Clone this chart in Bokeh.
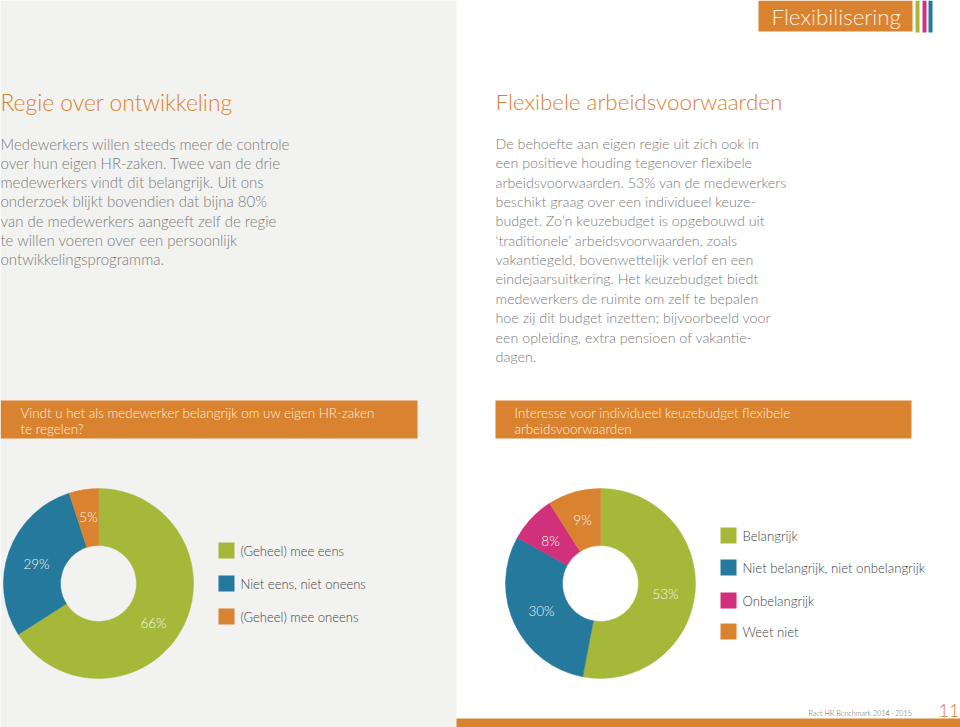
from bokeh.plotting import figure
from bokeh.models import Range1d
from bokeh.embed import file_html
from bokeh.resources import INLINE
from bokeh.core.properties import value
import numpy as np

# ---------------- data ----------------
q1_labels = ["(Geheel) mee eens", "Niet eens, niet oneens", "(Geheel) mee oneens"]
q1_values = [66, 29, 5]
q2_labels = ["Belangrijk", "Niet belangrijk, niet onbelangrijk", "Onbelangrijk", "Weet niet"]
q2_values = [53, 30, 8, 9]

ORANGE = "#d9822f"
GREEN = "#a5b83a"
BLUE = "#24799d"
MAGENTA = "#d1307b"
GRAY = "#7b7b7b"
LIGHTBG = "#f2f2f0"
FONT = "Lato Light"

q1_colors = [GREEN, BLUE, ORANGE]
q2_colors = [GREEN, BLUE, MAGENTA, ORANGE]

left_title = "Regie over ontwikkeling"
left_body = [
    "Medewerkers willen steeds meer de controle",
    "over hun eigen HR-zaken. Twee van de drie",
    "medewerkers vindt dit belangrijk. Uit ons",
    "onderzoek blijkt bovendien dat bijna 80%",
    "van de medewerkers aangeeft zelf de regie",
    "te willen voeren over een persoonlijk",
    "ontwikkelingsprogramma.",
]
right_title = "Flexibele arbeidsvoorwaarden"
right_body = [
    "De behoefte aan eigen regie uit zich ook in",
    "een positieve houding tegenover flexibele",
    "arbeidsvoorwaarden. 53% van de medewerkers",
    "beschikt graag over een individueel keuze-",
    "budget. Zo\u2019n keuzebudget is opgebouwd uit",
    "\u2018traditionele\u2019 arbeidsvoorwaarden, zoals",
    "vakantiegeld, bovenwettelijk verlof en een",
    "eindejaarsuitkering. Het keuzebudget biedt",
    "medewerkers de ruimte om zelf te bepalen",
    "hoe zij dit budget inzetten; bijvoorbeeld voor",
    "een opleiding, extra pensioen of vakantie-",
    "dagen.",
]
q1_title = ["Vindt u het als medewerker belangrijk om uw eigen HR-zaken", "te regelen?"]
q2_title = ["Interesse voor individueel keuzebudget flexibele", "arbeidsvoorwaarden"]

W, H = 960, 727


def Y(y):
    return H - y


p = figure(width=W, height=H, x_range=Range1d(0, W), y_range=Range1d(0, H),
           output_backend="svg", toolbar_location=None, min_border=0)
p.axis.visible = False
p.grid.visible = False
p.outline_line_color = None
p.background_fill_color = "white"
p.border_fill_color = "white"

# left panel background
p.quad(left=[0], right=[456], bottom=[Y(727)], top=[Y(0)], fill_color=LIGHTBG, line_color=None)

# header
p.quad(left=[758], right=[912], bottom=[Y(31)], top=[Y(0)], fill_color=ORANGE, line_color=None)
p.text(x=[771], y=[Y(16)], text=["Flexibilisering"], text_font=value(FONT), text_font_size="22.4px",
       text_color="#fdf0dc", text_baseline="middle")
p.quad(left=[915, 922, 928], right=[919, 926, 932], bottom=[Y(32)] * 3, top=[Y(0)] * 3,
       fill_color=[GREEN, MAGENTA, BLUE], line_color=None)

# titles
p.text(x=[0], y=[Y(101)], text=[left_title], text_font=value(FONT), text_font_size="22.8px",
       text_color=ORANGE, text_baseline="middle")
p.text(x=[495], y=[Y(101)], text=[right_title], text_font=value(FONT), text_font_size="22.4px",
       text_color=ORANGE, text_baseline="middle")

# body text
p.text(x=[0] * len(left_body), y=[Y(143 + 19.3 * i) for i in range(len(left_body))], text=left_body,
       text_font=value(FONT), text_font_size="15px", text_color=GRAY, text_baseline="middle")
p.text(x=[495] * len(right_body), y=[Y(143 + 19.35 * i) for i in range(len(right_body))], text=right_body,
       text_font=value(FONT), text_font_size="14.3px", text_color=GRAY, text_baseline="middle")

# banners
p.quad(left=[0, 495], right=[417, 911], bottom=[Y(438)] * 2, top=[Y(400)] * 2,
       fill_color=ORANGE, line_color=None)
p.text(x=[20] * 2, y=[Y(412), Y(428)], text=q1_title, text_font=value(FONT), text_font_size="13.4px",
       text_color="#fdf0dc", text_baseline="middle")
p.text(x=[514] * 2, y=[Y(412), Y(428)], text=q2_title, text_font=value(FONT), text_font_size="13.4px",
       text_color="#fdf0dc", text_baseline="middle")


def donut(cx, cy, values, colors, label_pos):
    vals = np.array(values, dtype=float)
    fr = vals / vals.sum()
    cum = np.concatenate([[0], np.cumsum(fr)])
    # clockwise from 12 o'clock
    start = np.pi / 2 - cum[1:] * 2 * np.pi
    end = np.pi / 2 - cum[:-1] * 2 * np.pi
    p.annular_wedge(x=cx, y=Y(cy), inner_radius=38, outer_radius=95,
                    start_angle=list(start), end_angle=list(end), fill_color=colors,
                    line_color=colors, line_width=0.5)
    p.text(x=[lp[0] for lp in label_pos], y=[Y(lp[1]) for lp in label_pos],
           text=[f"{int(v)}%" for v in values], text_font=value(FONT), text_font_size="13.5px",
           text_color="#f4f4ee", text_align="center", text_baseline="middle")


donut(98, 583, q1_values, q1_colors, [(153, 622), (36, 563), (88, 516)])
donut(600, 583, q2_values, q2_colors, [(665, 593), (541, 610), (550, 540), (582, 519)])

# legends
l1y = [550, 583, 616]
p.quad(left=[218] * 3, right=[234] * 3, top=[Y(y - 8) for y in l1y], bottom=[Y(y + 8) for y in l1y],
       fill_color=q1_colors, line_color=None)
p.text(x=[240] * 3, y=[Y(y) for y in l1y], text=q1_labels, text_font=value(FONT), text_font_size="13px",
       text_color="#444444", text_baseline="middle")

l2y = [535, 567, 600, 631]
p.quad(left=[720] * 4, right=[736] * 4, top=[Y(y - 8) for y in l2y], bottom=[Y(y + 8) for y in l2y],
       fill_color=q2_colors, line_color=None)
p.text(x=[742] * 4, y=[Y(y) for y in l2y], text=q2_labels, text_font=value(FONT), text_font_size="13.2px",
       text_color="#444444", text_baseline="middle")

# footer
p.quad(left=[456], right=[960], bottom=[Y(727)], top=[Y(718)], fill_color=ORANGE, line_color=None)
p.text(x=[808], y=[Y(713)], text=["Raet HR Benchmark 2014 \u00b7 2015"], text_font=value(FONT),
       text_font_size="7.2px", text_color="#666666", text_baseline="middle")
p.text(x=[938], y=[Y(710)], text=["11"], text_font=value(FONT), text_font_size="18px",
       text_color=ORANGE, text_baseline="middle")

open("out.html", "w").write(file_html(p, INLINE))
